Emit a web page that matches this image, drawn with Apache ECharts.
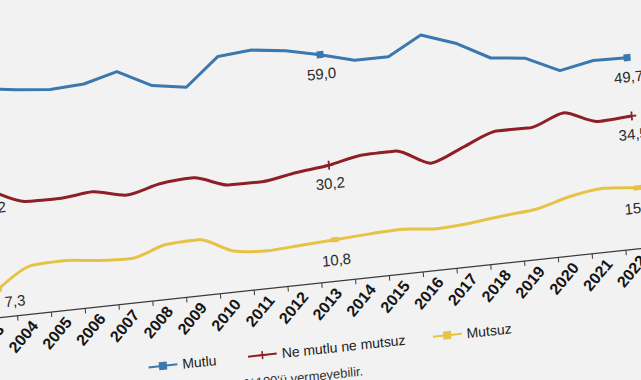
<!DOCTYPE html>
<html><head><meta charset="utf-8">
<script src="https://cdn.jsdelivr.net/npm/echarts@6/dist/echarts.min.js"></script>
<style>
html,body{margin:0;padding:0;width:641px;height:380px;overflow:hidden;background:#f2f2f2;}
#wrap{position:absolute;left:0;top:0;width:760px;height:420px;transform-origin:0 0;
  transform:matrix(0.994,-0.107,0.0797,0.9968,-79.53,35.03);}
#chart{width:760px;height:420px;}
</style></head><body>
<div id="wrap"><div id="chart"></div></div>
<script>
const years = ['2003','2004','2005','2006','2007','2008','2009','2010','2011','2012','2013','2014','2015','2016','2017','2018','2019','2020','2021','2022'];
const mutlu   = [59.6, 58.4, 57.5, 58.0, 60.3, 55.7, 54.3, 61.4, 62.1, 61.0, 59.0, 56.6, 56.6, 61.3, 58.2, 53.4, 52.4, 48.2, 49.9, 49.7];
const neMutlu = [33.2, 29.3, 29.1, 29.9, 28.1, 30.1, 30.7, 27.9, 27.8, 29.2, 30.2, 31.9, 32.0, 27.9, 31.2, 34.4, 34.3, 37.2, 34.0, 34.5];
const mutsuz  = [7.3, 12.5, 12.9, 12.0, 11.6, 14.2, 14.6, 10.7, 9.8, 10.3, 10.8, 11.3, 11.6, 10.8, 11.3, 12.3, 13.1, 15.4, 16.6, 15.8];
const labeledIdx = [0, 10, 19];
const seriesNames = ['Mutlu', 'Ne mutlu ne mutsuz', 'Mutsuz'];
const footnote = "Toplamlar yuvarlamadan dolayı %100'ü vermeyebilir.";

const FONT = "'Liberation Sans Narrow','Arial Narrow','Liberation Sans',sans-serif";
const fmt = v => v.toFixed(1).replace('.', ',');

function buildData(arr, dist, extra) {
  return arr.map((v, i) => {
    if (labeledIdx.indexOf(i) < 0) return { value: v, symbol: 'none' };
    const item = { value: v, label: { show: true, position: 'bottom', distance: dist } };
    if (extra && extra[i]) Object.assign(item.label, extra[i]);
    return item;
  });
}

const labelStyle = { color: '#2a2a2a', fontSize: 15, fontFamily: FONT, formatter: p => fmt(p.value) };
const legendBase = { top: 348, padding: 0, itemWidth: 29, itemHeight: 10,
  textStyle: { color: '#222', fontSize: 14, fontFamily: FONT } };

const chart = echarts.init(document.getElementById('chart'), null, { renderer: 'svg' });
chart.setOption({
  animation: false,
  backgroundColor: 'transparent',
  grid: { left: 40, top: 20, width: 680, height: 269.5 },
  xAxis: {
    type: 'category', data: years, boundaryGap: true,
    axisLine: { lineStyle: { color: '#3a3a3a', width: 1.2 } },
    axisTick: { show: true, length: 5, lineStyle: { color: '#3a3a3a' } },
    axisLabel: { interval: 0, rotate: 45, margin: 9, color: '#151515', fontSize: 16, fontWeight: 'bold', fontFamily: FONT }
  },
  yAxis: { type: 'value', min: 0, max: 70, show: false, splitLine: { show: false } },
  legend: [
    Object.assign({ left: 200, data: [seriesNames[0]] }, legendBase),
    Object.assign({ left: 300, data: [seriesNames[1]] }, legendBase),
    Object.assign({ left: 486, data: [seriesNames[2]] }, legendBase)
  ],
  graphic: [{
    type: 'text', right: 345, top: 375,
    style: { text: footnote, fill: '#333', fontSize: 13, fontFamily: FONT }
  }],
  series: [
    { name: seriesNames[0], type: 'line', data: buildData(mutlu, 8),
      symbol: 'rect', symbolSize: 7, color: '#3a78ad',
      lineStyle: { width: 3, color: '#3a78ad' }, itemStyle: { color: '#3a78ad' },
      label: labelStyle },
    { name: seriesNames[1], type: 'line', data: buildData(neMutlu, 6), smooth: 0.25,
      symbol: 'path://M4,0H6V4H10V6H6V10H4V6H0V4H4Z', symbolSize: 9, color: '#8e1f26',
      lineStyle: { width: 3, color: '#8e1f26' }, itemStyle: { color: '#8e1f26' },
      label: labelStyle },
    { name: seriesNames[2], type: 'line', data: buildData(mutsuz, 10, { 0: { offset: [16, -7] } }), smooth: 0.25,
      symbol: 'rect', symbolSize: [8, 5], color: '#e6c245',
      lineStyle: { width: 3, color: '#e6c245' }, itemStyle: { color: '#e6c245' },
      label: labelStyle }
  ]
});
</script>
</body></html>
